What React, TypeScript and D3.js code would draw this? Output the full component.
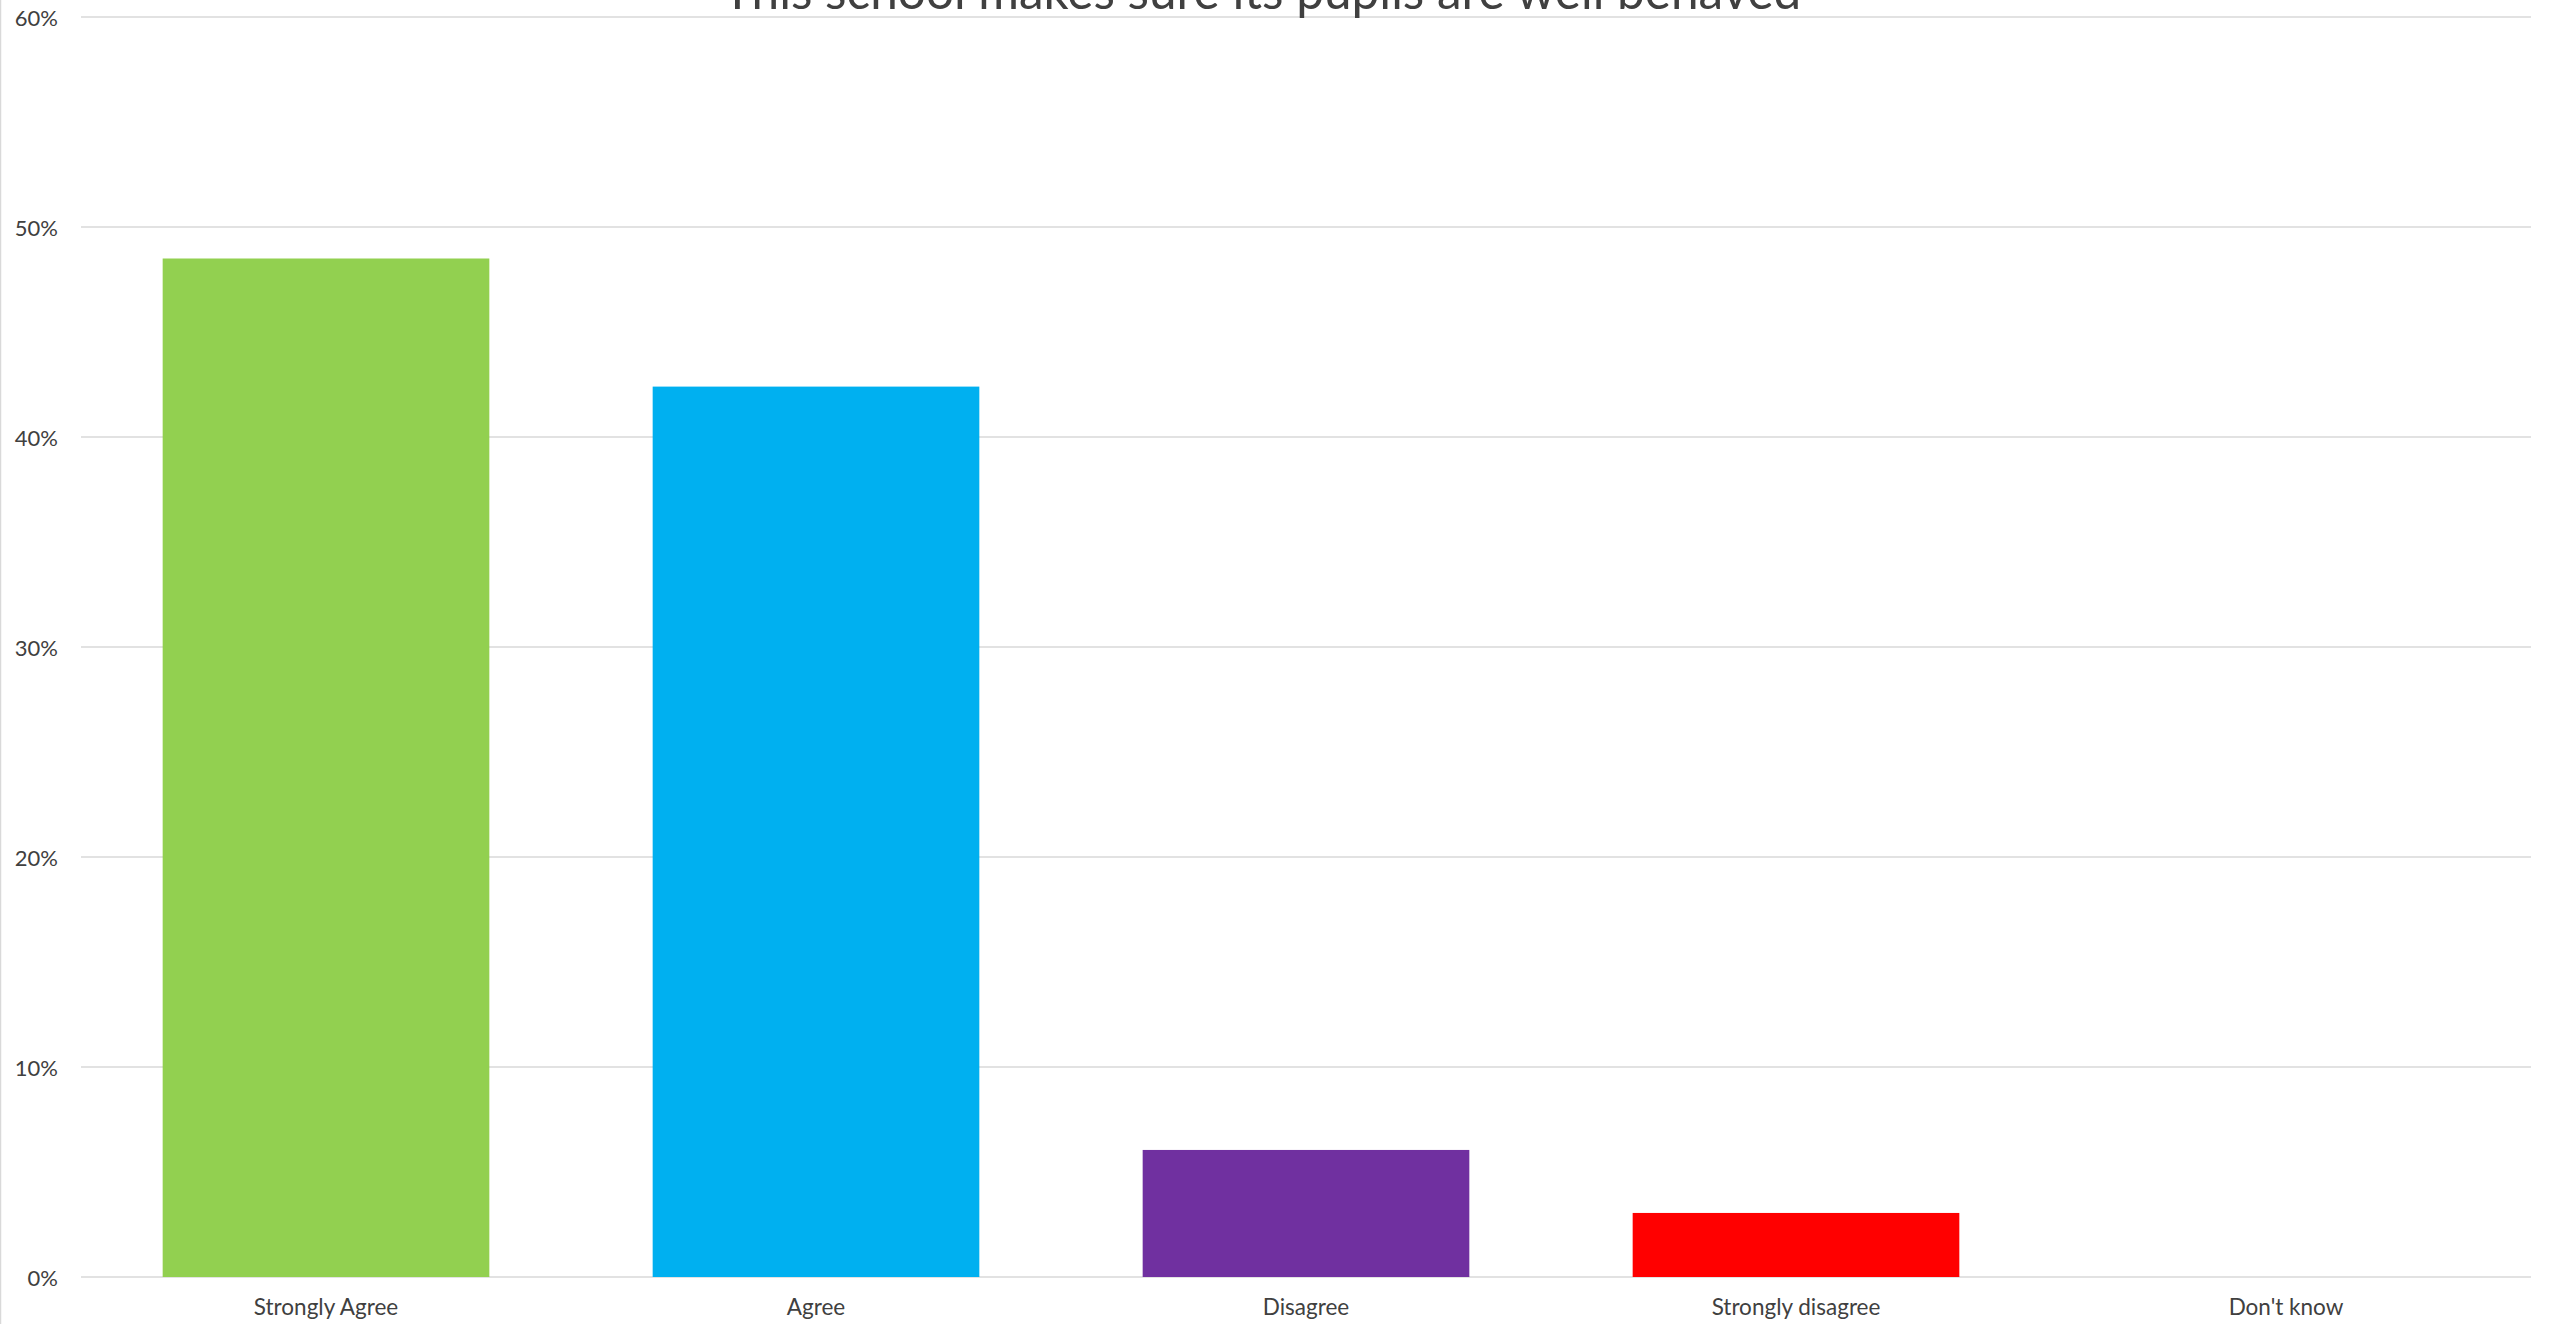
import React from "react";
import * as d3 from "d3";

const title = "This school makes sure its pupils are well behaved";
const categories = ["Strongly Agree", "Agree", "Disagree", "Strongly disagree", "Don't know"];
const values = [0.485, 0.424, 0.0605, 0.0305, 0];
const colors = ["#92D050", "#00B0F0", "#7030A0", "#FF0000", "#FFC000"];
const yTicks = [0, 0.1, 0.2, 0.3, 0.4, 0.5, 0.6];

const W = 2552;
const H = 1324;
const FONT = "Lato, 'Open Sans', sans-serif";

export default function App() {
  const x = d3
    .scaleBand<string>()
    .domain(categories)
    .range([81, 2531])
    .paddingInner(1 / 3)
    .paddingOuter(1 / 6);
  const y = d3.scaleLinear().domain([0, 0.6]).range([1277, 17]);
  const fmt = d3.format(".0%");

  return (
    <svg
      width={W}
      height={H}
      style={{ position: "absolute", left: 0, top: 0, display: "block", background: "#fff" }}
    >
      <rect x={0} y={0} width={W} height={H} fill="#ffffff" />
      <line x1={0.5} x2={0.5} y1={0} y2={H} stroke="#d9d9d9" strokeWidth={1.5} />
      {yTicks.map((t) => (
        <g key={t}>
          <line x1={81} x2={2531} y1={y(t)} y2={y(t)} stroke="#d9d9d9" strokeWidth={1.6} />
          <text
            x={58}
            y={y(t)}
            textAnchor="end"
            dominantBaseline="central"
            fontFamily={FONT}
            fontSize={22}
            fill="#404040"
          >
            {fmt(t)}
          </text>
        </g>
      ))}
      {categories.map((c, i) => (
        <rect
          key={c}
          x={x(c)}
          y={y(values[i])}
          width={x.bandwidth()}
          height={y(0) - y(values[i])}
          fill={colors[i]}
        />
      ))}
      {categories.map((c) => (
        <text
          key={c}
          x={(x(c) as number) + x.bandwidth() / 2}
          y={1315}
          textAnchor="middle"
          fontFamily={FONT}
          fontSize={22.5}
          fill="#404040"
        >
          {c}
        </text>
      ))}
      <text
        x={1262}
        y={8.5}
        textAnchor="middle"
        fontFamily={FONT}
        fontSize={49.5}
        fill="#404040"
      >
        {title}
      </text>
    </svg>
  );
}
